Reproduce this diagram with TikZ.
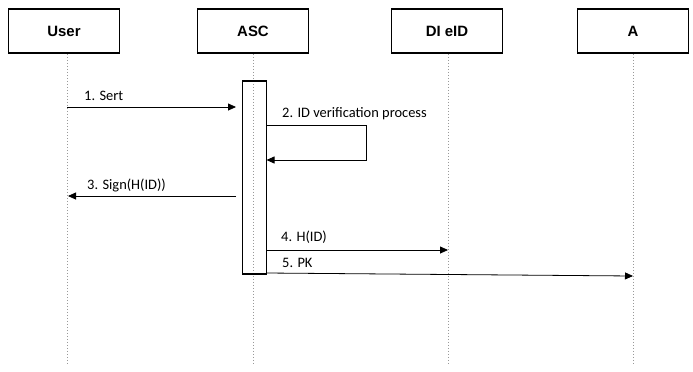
\documentclass[tikz,border=0pt]{standalone}
\usepackage{fontspec}
\setmainfont{Carlito}
\newfontfamily\headfont{Liberation Sans}
\usetikzlibrary{arrows.meta}
\begin{document}
\begin{tikzpicture}[x=1bp,y=-1bp,
  actor/.style={draw=black,line width=1.6bp,minimum width=111bp,minimum height=44bp,inner sep=0pt,font=\headfont\bfseries\fontsize{15}{17}\selectfont},
  lifeline/.style={draw=black!40,line width=0.6bp,dash pattern=on 1.5bp off 1.5bp},
  msg/.style={draw=black,line width=0.8bp,-{Triangle[length=8bp,width=7bp]}},
  lbl/.style={font=\fontsize{14.5}{17}\selectfont,anchor=base west,inner sep=0pt}]
\useasboundingbox (0,0) rectangle (693,371);
\node[actor] (user) at (64,31) {User};
\node[actor] (asc) at (253,31) {ASC};
\node[actor] (did) at (447,31) {DI eID};
\node[actor] (a) at (633,31) {A};
\coordinate (userE) at (67,365);
\coordinate (ascE) at (253,365);
\coordinate (didE) at (448,365);
\coordinate (aE) at (633,365);
\draw[lifeline] (67,53.8) -- (userE);
\draw[lifeline] (asc.south) -- (ascE);
\draw[lifeline] (448,53.8) -- (didE);
\draw[lifeline] (a.south) -- (aE);
\node[draw=black,line width=1.6bp,minimum width=24bp,minimum height=193bp,inner sep=0pt,anchor=north] (act) at (254.5,80) {};
% 1
\coordinate (u1) at (67,107);
\coordinate (a1) at (236,107);
\draw[msg] (u1) -- (a1);
\node[lbl] (l1) at (84,100) {1. Sert};
% 2
\coordinate (s1) at (266.5,125);
\coordinate (s2) at (366,125);
\coordinate (s3) at (366,160);
\coordinate (s4) at (266.5,160);
\draw[msg] (s1) -- (s2) -- (s3) -- (s4);
\node[lbl] (l2) at (282,117) {2. ID verification process};
% 3
\coordinate (a3) at (236,196);
\coordinate (u3) at (68,196);
\draw[msg] (a3) -- (u3);
\node[lbl] (l3) at (87,189) {3. Sign(H(ID))};
% 4
\coordinate (a4) at (266.5,250);
\coordinate (d4) at (448,250);
\draw[msg] (a4) -- (d4);
\node[lbl] (l4) at (281,241) {4. H(ID)};
% 5
\coordinate (a5) at (266.5,273);
\coordinate (e5) at (633,276);
\draw[msg] (a5) -- (e5);
\node[lbl] (l5) at (282,267) {5. PK};
\end{tikzpicture}
\end{document}
